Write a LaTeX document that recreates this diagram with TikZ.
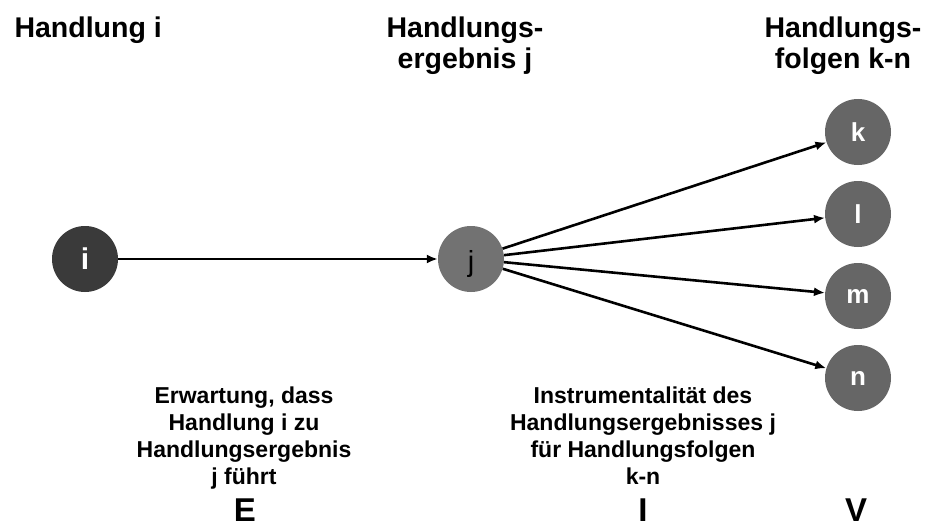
\documentclass[tikz,border=0pt]{standalone}
\usepackage{fontspec}
\setmainfont{Liberation Sans}
\usetikzlibrary{arrows.meta}
\begin{document}
\begin{tikzpicture}[x=1pt,y=-1pt,
  every node/.style={font=\bfseries},
  dot/.style={circle,minimum size=66pt,inner sep=0pt,fill=#1},
  dot/.default={gray66},
  lbl/.style={text=white,font=\bfseries\fontsize{26}{26}\selectfont},
  head/.style={align=center,anchor=base,font=\bfseries\fontsize{28.5}{31}\selectfont},
  note/.style={align=center,anchor=base,font=\bfseries\fontsize{23}{27}\selectfont},
  big/.style={anchor=base,font=\bfseries\fontsize{33}{33}\selectfont},
  link/.style={line width=2.6pt,-{Latex[length=11pt,width=9pt]}}
]
\definecolor{gray66}{HTML}{666666}
\definecolor{gray3a}{HTML}{3A3A3A}
\definecolor{gray72}{HTML}{727272}
\useasboundingbox[fill=white] (0,0) rectangle (927,527);

% column headings (base = baseline of the last line)
\node[head,anchor=base west] (hi) at (11,38) {Handlung i};
\node[head] (hj) at (465,69) {Handlungs-\\ergebnis j};
\node[head] (hk) at (843,69) {Handlungs-\\folgen k-n};

% nodes
\node[dot=gray3a] (i) at (85,259) {};
\node[lbl,font=\bfseries\fontsize{30}{30}\selectfont] at (i) {i};
\node[dot=gray72] (j) at (471,259) {};
\node[font=\fontsize{29}{29}\selectfont] at ([yshift=-5pt]j.center) {j};
\node[dot] (k) at (858,132) {};
\node[lbl] at (k) {k};
\node[dot] (l) at (858,214) {};
\node[lbl] at (l) {l};
\node[dot] (m) at (858,296) {};
\node[lbl] at (m) {m};
\node[dot] (n) at (858,378) {};
\node[lbl] at (n) {n};

% connectors
\draw[link] (i) -- (j);
\draw[link] (j) -- (k);
\draw[link] (j) -- (l);
\draw[link] (j) -- (m);
\draw[link] (j) -- (n);

% explanations (base = baseline of the last line)
\node[note] (te) at (244,484) {Erwartung, dass\\Handlung i zu\\Handlungsergebnis\\j führt};
\node[note] (ti) at (643,484) {Instrumentalität des\\Handlungsergebnisses j\\für Handlungsfolgen\\k-n};
\node[big] (E) at (245,521) {E};
\node[big] (I) at (643,521) {I};
\node[big] (V) at (856,521) {V};
\end{tikzpicture}
\end{document}
